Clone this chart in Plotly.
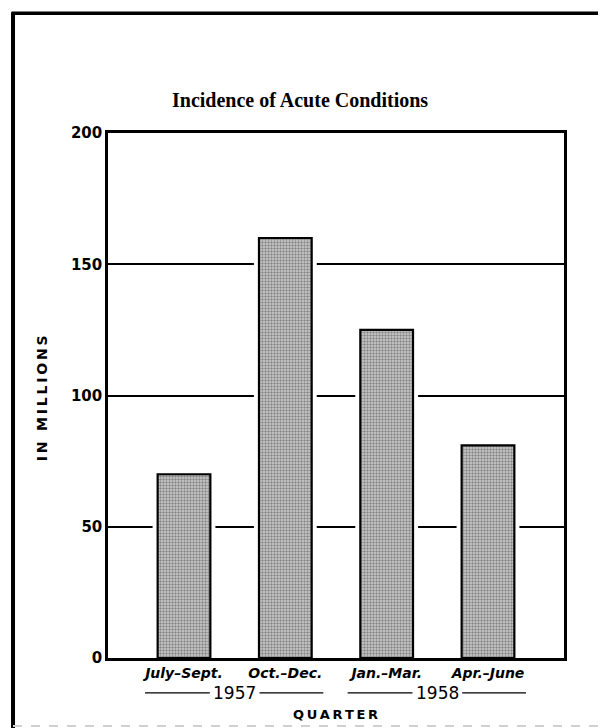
import plotly.graph_objects as go

# ---- data ----
quarters = ["July–Sept.", "Oct.–Dec.", "Jan.–Mar.", "Apr.–June"]
values = [70, 160, 125, 81]          # acute conditions, in millions
years = ["1957", "1958"]
year_groups = [[0, 1], [2, 3]]        # indices of quarters in each year
y_ticks = [0, 50, 100, 150, 200]

x_pos = list(range(1, len(quarters) + 1))
TS = "\u2009"  # thin space for letter spacing

fig = go.Figure()
# white halo so the grid lines stop just short of each bar, as in the printed chart
fig.add_trace(go.Bar(
    x=x_pos, y=values, width=0.62,
    marker=dict(color="white", line=dict(width=0)),
    showlegend=False, hoverinfo="skip",
))
fig.add_trace(go.Bar(
    x=x_pos, y=values, width=0.52,
    marker=dict(
        color="#b0b0b0",
        line=dict(color="black", width=2.2),
        pattern=dict(shape=".", fgcolor="#404040", bgcolor="#d0d0d0", size=3, solidity=0.5),
    ),
    showlegend=False, hoverinfo="skip",
))

shapes = []
annotations = []
ypaper_year = -0.0666
for yr, grp in zip(years, year_groups):
    xs = [x_pos[i] for i in grp]
    c = sum(xs) / len(xs)
    left, right = xs[0] - 0.385, xs[-1] + 0.375
    gap = 0.245
    annotations.append(dict(x=c, y=ypaper_year, xref="x", yref="paper", text=yr, showarrow=False,
                            font=dict(family="DejaVu Sans", size=17, color="black"),
                            xanchor="center", yanchor="middle"))
    shapes.append(dict(type="line", xref="x", yref="paper", x0=left, x1=c - gap, y0=ypaper_year, y1=ypaper_year,
                       line=dict(color="black", width=1.3)))
    shapes.append(dict(type="line", xref="x", yref="paper", x0=c + gap, x1=right, y0=ypaper_year, y1=ypaper_year,
                       line=dict(color="black", width=1.3)))

# outer frame (left and top heavy borders)
shapes.append(dict(type="line", xref="paper", yref="paper", x0=-0.2083, x1=-0.2083, y0=-0.14, y1=1.23,
                   line=dict(color="black", width=4)))
shapes.append(dict(type="line", xref="paper", yref="paper", x0=-0.2116, x1=1.10, y0=1.2279, y1=1.2279,
                   line=dict(color="black", width=3.5)))
shapes.append(dict(type="line", xref="paper", yref="paper", x0=-0.2083, x1=1.10, y0=-0.1295, y1=-0.1295,
                   line=dict(color="#d0d0d0", width=2, dash="dash")))

annotations.append(dict(x=0.42, y=1.062, xref="paper", yref="paper",
                        text="<b>Incidence of Acute Conditions</b>", showarrow=False,
                        font=dict(family="Liberation Serif", size=20, color="black"),
                        xanchor="center", yanchor="middle"))
annotations.append(dict(x=-0.1447, y=0.495, xref="paper", yref="paper",
                        text="<b>" + TS.join("IN MILLIONS") + "</b>", textangle=-90, showarrow=False,
                        font=dict(family="DejaVu Sans", size=14, color="black"),
                        xanchor="center", yanchor="middle"))
annotations.append(dict(x=0.498, y=-0.1085, xref="paper", yref="paper",
                        text="<b>" + TS.join("QUARTER") + "</b>", showarrow=False,
                        font=dict(family="DejaVu Sans", size=13, color="black"),
                        xanchor="center", yanchor="middle"))

# the page body adds an 8px margin, so the figure is 8px smaller than the window
fig.update_layout(
    width=598, height=720,
    margin=dict(l=100, r=42, t=125, b=70),
    paper_bgcolor="white", plot_bgcolor="white",
    barmode="overlay",
    shapes=shapes, annotations=annotations,
    font=dict(family="DejaVu Sans", color="black"),
)
fig.update_xaxes(
    range=[0.25, 4.75], tickvals=x_pos,
    ticktext=[f"<b><i>{q}</i></b>" for q in quarters],
    tickfont=dict(family="DejaVu Sans", size=14, color="black"),
    showgrid=False, zeroline=False, ticks="",
    showline=True, linecolor="black", linewidth=2.5, mirror=True,
)
fig.update_yaxes(
    range=[0, 200], tickvals=y_ticks, ticktext=[str(v) for v in y_ticks],
    tickfont=dict(family="DejaVu Sans", size=15, color="black", weight="bold"),
    showgrid=True, gridcolor="black", gridwidth=1.5, zeroline=False, ticks="",
    showline=True, linecolor="black", linewidth=2.5, mirror=True,
)

fig.write_html("out.html")
